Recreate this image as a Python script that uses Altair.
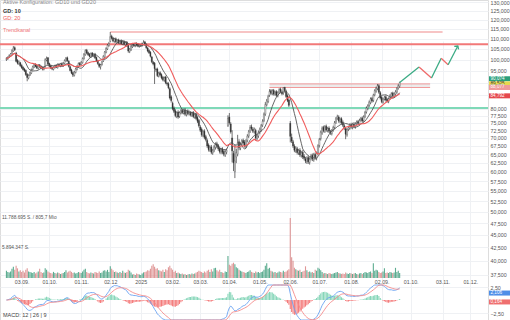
import altair as alt
import numpy as np
import pandas as pd

START = "2024-08-19"
FONT = "Liberation Sans"

# ---- daily candles (EUR), trading days from 19.08.2024 ----
close = [
    100.5, 101.0, 101.8, 102.6, 104.2, 105.4, 104.6, 99.2, 98.4, 99.0,
    97.2, 96.4, 95.6, 95.0, 93.4, 92.2, 93.0, 94.2, 95.5, 96.8, 97.7, 97.0, 96.2, 97.5, 96.8, 96.4, 95.8, 96.5, 100.0, 100.5, 98.0,
    97.0, 96.2, 95.8, 96.5, 97.2, 96.6, 97.8, 97.2, 98.0, 97.4, 98.4, 99.6, 100.6, 99.5, 97.0, 95.2, 94.0, 93.2, 94.5, 95.8, 97.0, 98.2, 97.6,
    98.8, 100.5, 102.5, 104.2, 103.0, 102.2, 101.5, 102.8, 101.8, 102.4, 100.8, 99.4, 98.2, 97.0, 97.6, 99.0, 101.5, 103.5, 105.2, 106.8, 107.6,
    111.0, 110.2, 108.8, 109.8, 108.5, 109.2, 108.0, 108.8, 107.6, 108.4, 107.2, 108.0, 106.5, 104.0, 104.8, 106.2, 107.0, 106.6, 107.4, 107.0, 106.4, 106.8,
    106.8, 107.4, 108.2, 107.0, 105.6, 104.0, 103.2, 101.6, 99.0, 98.0, 96.0, 95.5, 93.0, 94.0, 93.2, 92.0, 91.2, 92.0, 90.0, 89.5, 88.0, 84.0, 83.0,
    80.0, 79.0, 77.5, 78.5, 77.0, 78.5, 79.2, 78.6, 79.4, 78.0, 79.0, 78.2, 78.8, 77.8, 78.4, 77.2, 77.8, 76.5, 75.5, 74.0,
    72.5, 71.0, 72.0, 70.2, 69.5, 67.5, 66.4, 67.0, 65.6, 66.0, 67.2, 68.0, 67.4, 66.6, 65.8, 66.4, 65.6, 65.0, 65.8, 66.2, 76.5,
    75.0, 72.0, 66.0, 62.5, 63.0, 65.5, 68.5, 67.0, 67.8, 69.0, 68.4, 67.6, 69.0, 70.6, 72.0, 73.4, 73.0, 72.2, 72.8, 70.0, 70.6, 71.8,
    72.8, 74.0, 75.5, 78.0, 81.5, 82.8, 84.5, 86.5, 85.8, 86.8, 85.5, 86.2, 85.0, 86.0, 87.2, 86.5, 85.6, 88.0, 86.8, 84.5, 83.0, 81.2,
    70.5, 69.0, 67.5, 66.2, 66.8, 65.5, 66.0, 64.8, 65.4, 64.2, 63.8, 63.0, 63.8, 62.8, 63.5, 64.5, 63.6, 64.8, 64.0, 65.2, 67.5,
    69.5, 71.8, 73.2, 72.4, 73.6, 72.6, 73.0, 72.2, 71.6, 72.4, 73.4, 75.0, 76.4, 77.2, 75.6, 76.2, 75.0, 74.2, 73.2, 71.2, 72.6, 73.4, 74.2,
    73.6, 74.4, 73.8, 74.6, 75.2, 74.8, 75.8, 76.4, 75.6, 77.0, 78.6, 80.2, 81.0, 82.4, 83.6, 82.8, 85.0, 86.8, 87.8, 88.8, 86.2,
    84.0, 82.6, 83.4, 84.2, 83.2, 82.8, 83.6, 84.8, 85.6, 84.8, 85.6, 86.4, 87.6, 88.8, 90.074,
]
open_ = [
    100.0, 100.4, 101.2, 101.6, 102.8, 104.0, 105.6, 103.0, 99.6, 98.2,
    98.6, 97.4, 96.6, 95.8, 95.2, 93.6, 92.0, 93.2, 94.0, 95.6, 96.6, 97.9, 97.2, 96.0, 97.6, 97.0, 96.6, 95.6, 96.8, 99.8, 100.8,
    98.2, 97.2, 96.4, 95.6, 96.4, 97.4, 96.4, 97.9, 97.0, 98.2, 97.2, 98.2, 99.4, 100.8, 99.2, 96.8, 95.4, 94.2, 93.0, 94.3, 95.6, 96.8, 98.4,
    97.8, 98.6, 100.4, 102.2, 104.4, 103.2, 102.4, 101.2, 103.0, 101.6, 102.6, 101.0, 99.6, 98.0, 96.8, 97.8, 99.4, 101.2, 103.4, 105.0, 106.6,
    108.6, 111.2, 110.4, 108.6, 110.0, 108.2, 109.4, 107.8, 109.0, 107.4, 108.6, 107.0, 108.2, 106.8, 103.8, 104.6, 106.0, 107.2, 106.4, 107.6, 107.2, 106.2,
    106.6, 106.6, 107.2, 108.4, 107.2, 105.4, 104.2, 103.4, 101.2, 98.8, 98.4, 95.6, 95.8, 92.8, 94.2, 93.4, 92.2, 91.0, 92.4, 89.8, 89.6, 87.6, 84.4,
    82.0, 80.2, 79.2, 77.2, 78.8, 77.2, 78.4, 79.4, 78.4, 79.6, 77.8, 79.2, 78.0, 78.6, 77.6, 78.6, 77.0, 78.0, 76.8, 75.8,
    73.6, 72.8, 70.8, 72.2, 70.4, 69.2, 67.8, 66.2, 67.2, 65.4, 66.2, 67.0, 68.2, 67.6, 66.8, 65.6, 66.6, 65.8, 64.8, 65.6, 74.0,
    77.0, 74.6, 70.0, 65.2, 60.0, 64.2, 65.0, 68.8, 66.8, 68.2, 69.2, 68.6, 67.4, 69.2, 70.6, 72.2, 73.6, 72.8, 72.0, 72.4, 69.8, 70.6,
    71.8, 72.6, 74.2, 75.8, 78.0, 81.4, 82.6, 85.0, 86.8, 85.6, 86.9, 85.4, 86.4, 84.8, 86.2, 87.4, 86.3, 85.8, 88.2, 86.6, 84.8, 83.2,
    74.8, 70.2, 68.8, 67.4, 66.0, 66.6, 65.4, 66.2, 64.6, 65.6, 64.4, 63.6, 62.8, 64.0, 62.6, 63.8, 64.6, 63.4, 64.9, 63.8, 65.4,
    67.6, 69.8, 71.6, 73.4, 72.2, 73.8, 72.4, 73.2, 72.0, 71.4, 72.6, 73.4, 75.2, 76.6, 77.0, 75.4, 76.4, 75.2, 74.0, 73.0, 71.0, 72.8, 73.2,
    74.4, 73.4, 74.6, 73.6, 74.8, 75.4, 74.6, 76.0, 76.6, 75.8, 77.2, 78.8, 80.0, 81.2, 82.2, 83.8, 83.0, 85.2, 86.6, 87.6, 88.8,
    86.0, 84.2, 82.4, 83.6, 84.4, 83.4, 82.6, 83.8, 84.6, 85.8, 84.6, 85.4, 86.2, 87.8, 88.6,
]
high = [
    101.1, 101.5, 102.4, 103.0, 104.8, 106.4, 106.2, 103.6, 100.2, 99.6,
    99.0, 97.9, 97.0, 96.3, 95.6, 94.0, 93.5, 94.7, 96.0, 97.3, 98.2, 98.3, 97.6, 98.0, 98.0, 97.4, 97.0, 97.0, 100.6, 101.4, 101.2,
    98.6, 97.7, 96.9, 97.0, 97.7, 97.9, 98.3, 98.4, 98.5, 98.7, 98.9, 100.1, 101.2, 101.4, 99.7, 97.3, 95.9, 94.7, 95.0, 96.3, 97.5, 98.7, 98.9,
    99.3, 101.0, 103.0, 104.8, 105.0, 103.7, 103.0, 103.3, 103.5, 102.9, 103.1, 101.4, 100.0, 98.5, 98.1, 99.5, 102.0, 104.0, 105.8, 107.4, 108.4,
    113.4, 112.0, 110.9, 110.4, 110.6, 109.8, 110.0, 109.4, 109.6, 109.0, 109.2, 108.6, 108.8, 107.3, 105.4, 106.8, 107.6, 107.8, 108.0, 108.2, 107.8, 107.4,
    107.3, 108.0, 109.2, 108.9, 107.7, 106.0, 104.8, 103.9, 101.7, 99.4, 98.9, 96.3, 96.4, 94.6, 94.8, 93.9, 92.8, 92.6, 92.9, 90.4, 90.2, 88.2, 85.0,
    82.6, 80.8, 79.8, 79.0, 79.4, 79.0, 79.8, 80.0, 80.0, 80.2, 79.5, 79.7, 79.3, 79.1, 78.9, 79.1, 78.3, 78.5, 77.3, 76.3,
    74.2, 73.4, 72.6, 72.8, 71.0, 69.8, 68.3, 67.6, 67.8, 66.6, 67.8, 68.6, 68.8, 68.1, 67.3, 66.9, 67.1, 66.3, 66.3, 66.7, 77.6,
    78.4, 75.2, 72.5, 66.0, 68.0, 66.6, 71.0, 69.6, 68.6, 69.6, 69.8, 69.3, 69.6, 71.2, 72.6, 74.2, 74.4, 73.5, 73.4, 73.0, 71.3, 72.4,
    73.4, 74.6, 76.2, 78.6, 82.4, 83.6, 85.2, 87.4, 87.4, 87.4, 87.5, 86.8, 87.0, 86.6, 87.8, 88.0, 86.9, 88.1, 88.0, 87.2, 85.4, 83.8,
    75.6, 71.4, 69.4, 68.0, 67.4, 67.2, 66.6, 66.8, 66.0, 66.2, 65.0, 64.2, 64.4, 64.6, 64.1, 65.1, 65.2, 65.4, 65.5, 65.8, 68.0,
    70.0, 72.4, 73.8, 74.0, 74.2, 74.4, 73.6, 73.8, 72.6, 72.9, 74.0, 75.6, 77.0, 77.8, 77.6, 76.8, 76.9, 75.8, 74.6, 73.6, 73.2, 74.0, 74.8,
    75.0, 75.0, 75.2, 75.2, 75.8, 76.0, 76.4, 77.0, 77.2, 77.6, 79.2, 80.8, 81.6, 83.0, 84.2, 84.4, 85.6, 87.4, 88.4, 89.5, 89.4,
    86.6, 84.8, 84.0, 84.8, 85.0, 84.0, 84.2, 85.4, 86.2, 86.4, 86.2, 87.0, 88.2, 89.4, 90.4,
]
low = [
    99.4, 99.9, 100.8, 101.2, 102.4, 103.6, 104.0, 98.8, 97.8, 97.6,
    96.8, 95.9, 95.2, 94.5, 92.9, 90.6, 91.4, 92.8, 93.6, 95.2, 96.2, 96.6, 95.8, 95.6, 96.3, 95.9, 95.2, 95.2, 96.4, 99.2, 97.5,
    96.6, 95.8, 95.3, 95.2, 96.0, 96.2, 96.0, 96.8, 96.6, 97.0, 96.8, 97.8, 99.0, 99.0, 96.5, 94.8, 93.6, 92.4, 92.6, 93.9, 95.2, 96.4, 97.1,
    97.3, 98.2, 100.0, 101.8, 102.5, 101.7, 101.0, 100.8, 101.3, 101.1, 100.3, 98.9, 97.7, 96.3, 95.6, 97.3, 98.9, 100.8, 102.9, 104.5, 106.0,
    108.2, 109.6, 108.2, 108.0, 107.9, 107.6, 107.4, 107.2, 107.0, 106.8, 106.6, 106.4, 105.9, 103.2, 103.0, 104.0, 105.4, 106.0, 105.8, 106.4, 105.8, 105.6,
    106.0, 106.1, 106.8, 106.5, 105.0, 103.4, 102.6, 101.0, 98.4, 97.4, 89.5, 94.6, 92.4, 92.2, 92.6, 91.4, 90.6, 90.4, 89.4, 88.8, 87.4, 83.4, 82.2,
    79.4, 78.4, 76.9, 76.6, 76.4, 76.7, 77.9, 78.0, 77.9, 77.4, 77.2, 77.6, 77.5, 77.2, 77.0, 76.6, 76.4, 75.9, 74.9, 73.4,
    71.9, 70.4, 70.2, 69.6, 68.9, 66.9, 65.8, 65.7, 65.0, 64.8, 65.6, 66.4, 66.8, 66.0, 65.2, 65.0, 65.0, 64.4, 64.2, 65.0, 73.6,
    74.4, 71.4, 62.6, 60.2, 58.3, 62.4, 64.4, 66.2, 66.2, 67.6, 67.8, 67.0, 66.8, 68.6, 70.0, 71.6, 72.4, 71.6, 71.4, 69.2, 69.2, 70.0,
    71.2, 72.0, 73.6, 75.2, 77.4, 80.8, 82.0, 84.4, 85.2, 85.0, 84.9, 84.8, 84.4, 84.2, 85.6, 85.9, 85.0, 85.2, 86.2, 84.0, 82.4, 80.6,
    68.6, 68.4, 66.9, 65.6, 65.4, 64.9, 64.8, 64.2, 64.0, 63.6, 63.2, 62.4, 62.2, 62.2, 62.0, 63.2, 63.0, 62.8, 63.4, 63.2, 64.8,
    67.0, 69.2, 71.0, 71.8, 71.6, 72.0, 71.8, 71.6, 71.0, 70.8, 72.0, 72.8, 74.6, 76.0, 75.0, 74.8, 74.4, 73.6, 72.6, 69.6, 70.4, 72.2, 72.6,
    73.0, 72.8, 73.2, 73.0, 74.2, 74.2, 74.0, 75.4, 75.0, 75.2, 76.6, 78.2, 79.4, 80.6, 81.6, 82.2, 82.4, 84.6, 86.0, 87.0, 85.6,
    83.4, 82.0, 81.8, 83.0, 82.6, 82.2, 82.0, 83.2, 84.0, 84.2, 84.0, 84.8, 85.6, 87.2, 88.0,
]
# volume in millions of shares
volume_mio = [
    1.4, 1.2, 1.1, 1.3, 1.8, 2.2, 1.6, 2.4, 1.9, 1.3,
    1.5, 1.2, 1.4, 1.1, 1.6, 1.9, 1.3, 1.2, 1.1, 1.0, 1.2, 0.9, 1.1, 1.3, 1.8, 1.2, 1.0, 1.1, 1.9, 1.6, 1.3,
    1.1, 1.0, 0.9, 1.2, 1.0, 0.9, 1.1, 1.0, 0.8, 0.9, 1.0, 1.2, 1.5, 1.1, 1.3, 1.4, 1.2, 1.0, 1.1, 0.9, 1.0, 1.2, 1.1,
    1.0, 1.3, 1.6, 1.8, 1.2, 1.0, 0.9, 1.1, 1.0, 0.9, 1.2, 1.1, 1.0, 1.3, 1.0, 1.1, 1.4, 1.5, 1.3, 1.6, 1.2,
    2.3, 1.8, 1.5, 1.2, 1.3, 1.1, 1.0, 1.2, 1.0, 1.4, 1.1, 1.0, 1.2, 1.6, 1.4, 1.1, 0.7, 0.8, 0.6, 0.9, 0.8, 0.7,
    0.6, 0.9, 1.1, 1.2, 1.3, 1.5, 1.4, 1.8, 2.4, 2.7, 2.2, 1.8, 1.9, 1.5, 1.4, 1.3, 1.6, 1.2, 1.7, 1.5, 2.1, 2.4, 1.9,
    1.6, 1.2, 1.4, 1.0, 1.1, 0.9, 0.8, 0.9, 0.7, 0.8, 0.6, 0.7, 0.8, 0.7, 0.9, 0.8, 0.9, 1.1, 1.2, 1.4,
    1.3, 1.2, 1.0, 1.3, 1.1, 1.4, 1.6, 1.2, 1.7, 1.3, 1.9, 2.0, 1.5, 1.3, 1.6, 1.2, 1.1, 1.0, 1.3, 1.2, 4.3,
    2.6, 2.4, 2.8, 3.0, 2.7, 2.1, 1.9, 1.6, 1.4, 1.3, 1.2, 1.1, 1.0, 1.2, 1.3, 1.5, 1.2, 1.1, 1.0, 1.3, 1.1, 1.2,
    1.0, 1.2, 1.3, 1.6, 2.4, 2.9, 1.8, 2.0, 1.4, 1.3, 1.1, 1.2, 1.0, 1.1, 1.3, 1.2, 1.1, 1.4, 1.2, 1.3, 1.5, 1.7,
    11.789, 4.1, 3.4, 2.0, 1.7, 1.5, 1.4, 1.6, 1.2, 1.3, 1.4, 2.3, 1.5, 1.2, 1.3, 1.1, 1.2, 1.0, 1.6, 1.4, 2.0,
    1.8, 1.5, 1.2, 0.9, 1.0, 0.9, 0.8, 1.0, 0.9, 0.8, 0.9, 1.0, 1.1, 1.2, 1.0, 0.9, 0.8, 0.9, 0.8, 1.1, 0.9, 0.8, 1.0,
    0.9, 0.8, 0.9, 1.0, 0.8, 0.7, 0.9, 1.0, 0.8, 1.0, 1.2, 1.1, 1.0, 1.2, 1.3, 1.0, 2.9, 1.4, 1.6, 1.5, 1.2,
    1.0, 1.1, 1.3, 1.9, 1.0, 1.1, 1.0, 1.2, 1.1, 1.0, 1.1, 2.0, 1.2, 1.4, 1.0,
]

# ---- axis ticks ----
tick_dates = ["2024-09-03", "2024-10-01", "2024-11-01", "2024-12-02", "2025-01-01", "2025-02-03",
              "2025-03-03", "2025-04-01", "2025-05-01", "2025-06-02", "2025-07-01", "2025-08-01",
              "2025-09-02", "2025-10-01", "2025-11-03", "2025-12-01"]
tick_labels = ["03.09.", "01.10.", "01.11.", "02.12", "2025", "03.02.", "03.03.", "01.04.", "01.05.",
               "02.06.", "01.07.", "01.08.", "02.09.", "01.10.", "03.11.", "01.12."]
price_ticks = [130, 125, 120, 115, 110, 105, 100, 95, 90, 85, 80, 77.5, 75, 72.5, 70, 67.5, 65, 62.5,
               60, 57.5, 55, 52.5, 50, 47.5, 45, 42.5, 40, 37.5]
hidden_price_labels = [90, 85]
macd_ticks = [2.5, -2.5]

# ---- drawings ----
level_red = 107.2
level_green = 80.2
level_top = 113.4
top_start, top_end = "2024-12-02", "2025-11-03"
zone_low, zone_high = 88.077, 89.525
zone_start, zone_end = "2025-05-12", "2025-10-21"
fc_dates = ["2025-09-19", "2025-10-09", "2025-10-22", "2025-10-31", "2025-11-07", "2025-11-18"]
fc_prices = [90.074, 96.7, 92.0, 100.6, 97.7, 106.4]

box_values = [90.074, 89.525, 88.077, 84.792]
box_labels = ["90,074", "89,525", "88,077", "84,792"]
box_fill = ["#2b9f7b", "#e8d84e", "#f09a9a", "#e5484d"]
box_text = ["white", "#333333", "white", "white"]
box_shift = [-3.8, 0, 0, 0]

macd_box_values = [2.106, 0.164]
macd_box_labels = ["2,106", "0,164"]
macd_box_fill = ["#4f8fe8", "#ef6f6f"]
macd_box_shift = [4, 2.8]


def bidx(d):
    return int(np.busday_count(START, d))


n = min(len(close), len(open_), len(high), len(low), len(volume_mio))
df = pd.DataFrame({
    "i": np.arange(n),
    "open": open_[:n], "high": high[:n], "low": low[:n], "close": close[:n],
    "volume": volume_mio[:n],
})
df["gd10"] = df["close"].rolling(10, min_periods=1).mean()
df["gd20"] = df["close"].rolling(20, min_periods=1).mean()
ema12 = df["close"].ewm(span=12, adjust=False).mean()
ema26 = df["close"].ewm(span=26, adjust=False).mean()
df["macd"] = ema12 - ema26
df["signal"] = df["macd"].ewm(span=9, adjust=False).mean()
df["hist"] = df["macd"] - df["signal"]

tick_pos = [bidx(d) for d in tick_dates]
label_expr = ("[" + ",".join("'%s'" % s for s in tick_labels) + "][indexof(["
              + ",".join(str(p) for p in tick_pos) + "], datum.value)]")
price_label_expr = ("indexof([" + ",".join(str(v) for v in hidden_price_labels)
                    + "], datum.value) >= 0 ? '' : replace(format(datum.value, '.3f'), '.', ',')")

GRID = "#eff1f4"
LAB = 5.3
xscale = alt.Scale(domain=[-1.03, 344.2], nice=False, zero=False)
xaxis = alt.Axis(values=tick_pos, labelExpr=label_expr, orient="bottom", offset=-42, grid=True,
                 gridColor=GRID, domain=False, ticks=False, labelFontSize=LAB, labelColor="#555",
                 labelPadding=1, labelFont=FONT, title=None, labelOverlap=False, labelFlush=False)


def X(field):
    return alt.X(f"{field}:Q", scale=xscale, axis=xaxis)


pscale = alt.Scale(type="log", domain=[36.82, 131.19], range=[279, 0], nice=False, zero=False)
paxis = alt.Axis(orient="right", values=price_ticks, labelExpr=price_label_expr,
                 grid=True, gridColor=GRID, domain=False, ticks=False, labelFontSize=LAB,
                 labelPadding=2, labelColor="#555", labelFont=FONT, title=None,
                 labelOverlap=False, labelFlush=False)


def P(field):
    return alt.Y(f"{field}:Q", scale=pscale, axis=paxis)


base = alt.Chart(df)
up = "datum.close >= datum.open"

wicks = base.mark_rule(color="#333333", strokeWidth=0.7).encode(x=X("i"), y=P("low"), y2="high:Q")
bodies = base.mark_bar(size=1.1, stroke="#333333", strokeWidth=0.35).encode(
    x=X("i"), y=P("open"), y2="close:Q",
    color=alt.condition(up, alt.value("#ffffff"), alt.value("#333333")))
gd10 = base.mark_line(color="#555555", strokeWidth=0.9).encode(x=X("i"), y=P("gd10"))
gd20 = base.mark_line(color="#f05c5c", strokeWidth=1.1).encode(x=X("i"), y=P("gd20"))

zone_df = pd.DataFrame({"i0": [bidx(zone_start)], "i1": [bidx(zone_end)],
                        "p0": [zone_low], "p1": [zone_high]})
zone_fill = alt.Chart(zone_df).mark_rect(color="#dcdcdc", opacity=0.55).encode(
    x=X("i0"), x2="i1:Q", y=P("p0"), y2="p1:Q")
zone_lines = alt.layer(
    alt.Chart(zone_df).mark_rule(color="#f19a9a", strokeWidth=1).encode(x=X("i0"), x2="i1:Q", y=P("p0")),
    alt.Chart(zone_df).mark_rule(color="#f19a9a", strokeWidth=1).encode(x=X("i0"), x2="i1:Q", y=P("p1")),
)

lv_df = pd.DataFrame({"red": [level_red], "green": [level_green], "top": [level_top],
                      "t0": [bidx(top_start)], "t1": [bidx(top_end)]})
red_line = alt.Chart(lv_df).mark_rule(color="#f27878", strokeWidth=2).encode(
    y=P("red"), x=alt.value(0), x2=alt.value(488))
green_line = alt.Chart(lv_df).mark_rule(color="#7fd9b8", strokeWidth=2).encode(
    y=P("green"), x=alt.value(0), x2=alt.value(488))
top_line = alt.Chart(lv_df).mark_rule(color="#f5b0b0", strokeWidth=1.6).encode(
    x=X("t0"), x2="t1:Q", y=P("top"))

fc_i = [bidx(d) for d in fc_dates]
seg_df = pd.DataFrame({"i0": fc_i[:-1], "i1": fc_i[1:], "p0": fc_prices[:-1], "p1": fc_prices[1:]})
fc_segs = alt.Chart(seg_df).mark_rule(strokeWidth=1.3).encode(
    x=X("i0"), x2="i1:Q", y=P("p0"), y2="p1:Q",
    color=alt.condition("datum.p1 >= datum.p0", alt.value("#3bab84"), alt.value("#ef6a6a")))
head_df = pd.DataFrame({"i": [fc_i[-1]], "p": [fc_prices[-1]]})
fc_head = alt.Chart(head_df).mark_point(shape="M -1 0.9 L 0 0 L 1 0.9", filled=False, size=28,
                                        strokeWidth=1.3, color="#3bab84", angle=35, opacity=1).encode(
    x=X("i"), y=P("p"))

BH = 2.5
boxes = []
for v, lab, fcol, tcol, sh in zip(box_values, box_labels, box_fill, box_text, box_shift):
    bd = pd.DataFrame({"v": [v], "t": [lab]})
    boxes.append(alt.Chart(bd).mark_rect(color=fcol, yOffset=sh - BH, y2Offset=sh + BH).encode(
        y=P("v"), y2="v:Q", x=alt.value(489), x2=alt.value(510)))
    boxes.append(alt.Chart(bd).mark_text(color=tcol, fontSize=4.6, font=FONT, align="left",
                                         baseline="middle", dy=sh).encode(
        y=P("v"), x=alt.value(490.5), text="t:N"))

price_layer = alt.layer(zone_fill, zone_lines, red_line, green_line, top_line, wicks, bodies,
                        gd10, gd20, fc_segs, fc_head, *boxes)

vscale = alt.Scale(domain=[0, 11.789], range=[278, 218], nice=False)
vol_layer = base.mark_bar(size=1.1, opacity=0.85).encode(
    x=X("i"), y=alt.Y("volume:Q", scale=vscale, axis=None),
    color=alt.condition(up, alt.value("#3f9d7c"), alt.value("#d98585")))

mscale = alt.Scale(domain=[-3.846, 2.885], range=[320, 285], nice=False, zero=False, clamp=True)
maxis = alt.Axis(orient="right", values=macd_ticks,
                 labelExpr="replace(format(datum.value, '.2f'), '.', ',')",
                 grid=True, gridColor=GRID, domain=False, ticks=False, labelFontSize=LAB,
                 labelPadding=2, labelColor="#555", labelFont=FONT, title=None,
                 labelOverlap=False, labelFlush=False)
hist = base.mark_bar(size=1.1).encode(
    x=X("i"), y=alt.Y("hist:Q", scale=mscale, axis=maxis),
    color=alt.condition("datum.hist >= 0", alt.value("#86d6b9"), alt.value("#f47c7c")))
macd_line = base.mark_line(color="#6aa3f2", strokeWidth=0.9).encode(
    x=X("i"), y=alt.Y("macd:Q", scale=mscale, axis=maxis))
sig_line = base.mark_line(color="#f48a8a", strokeWidth=0.9).encode(
    x=X("i"), y=alt.Y("signal:Q", scale=mscale, axis=maxis))
mboxes = []
for v, lab, fcol, sh in zip(macd_box_values, macd_box_labels, macd_box_fill, macd_box_shift):
    bd = pd.DataFrame({"v": [v], "t": [lab]})
    mboxes.append(alt.Chart(bd).mark_rect(color=fcol, yOffset=sh - BH, y2Offset=sh + BH).encode(
        y=alt.Y("v:Q", scale=mscale, axis=maxis), y2="v:Q", x=alt.value(489), x2=alt.value(510)))
    mboxes.append(alt.Chart(bd).mark_text(color="white", fontSize=4.6, font=FONT, align="left",
                                          baseline="middle", dy=sh).encode(
        y=alt.Y("v:Q", scale=mscale, axis=maxis), x=alt.value(490.5), text="t:N"))
macd_layer = alt.layer(hist, macd_line, sig_line, *mboxes)


def txt(s, x, y, color, size=6, weight="normal"):
    return alt.Chart(pd.DataFrame({"t": [s]})).mark_text(
        align="left", baseline="middle", fontSize=size, color=color, font=FONT,
        fontWeight=weight).encode(text="t:N", x=alt.value(x), y=alt.value(y))


texts = [
    txt("Aktive Konfiguration: GD10 und GD20", 3, 1.5, "#8a8a8a", 5.5),
    txt("GD: 10", 3, 11, "#333333", 5.5, "bold"),
    txt("GD: 20", 3, 17.5, "#f05c5c", 5.5),
    txt("Trendkanal", 3, 30, "#f07a7a", 5.5),
    txt("11.788.695 S. / 805,7 Mio", 2, 218, "#555555", 4.8),
    txt("5.894.347 S.", 2, 248, "#555555", 4.8),
    txt("MACD: 12 | 26 | 9", 3, 315, "#444444", 5.5),
]

chart = alt.layer(price_layer, vol_layer, macd_layer, *texts).resolve_scale(
    y="independent").properties(
    width=488, height=320, autosize="none",
    padding={"left": 0, "top": 0, "right": 22, "bottom": 0},
).configure_view(stroke=None).configure(background="white")

chart.save("out.html", embed_options={"renderer": "svg", "actions": False})
